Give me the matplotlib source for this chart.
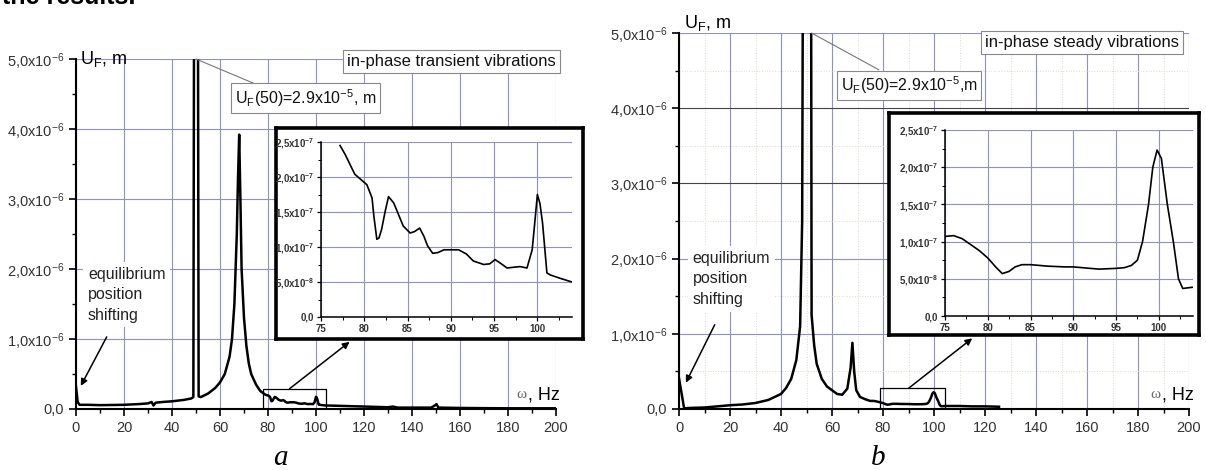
import numpy as np
import matplotlib
matplotlib.use("Agg")
import matplotlib.pyplot as plt
from matplotlib.ticker import MultipleLocator, FixedLocator, FixedFormatter

plt.rcParams['font.family'] = ['Liberation Sans', 'DejaVu Sans']
plt.rcParams['mathtext.fontset'] = 'custom'
plt.rcParams['mathtext.rm'] = 'Liberation Sans'
plt.rcParams['mathtext.it'] = 'Liberation Sans:italic'

# ---- panel a: in-phase transient vibrations ----
# amplitude in 1e-6 m outside the zoomed band
freq_a_low = [0, 0.7, 1.5, 5, 10, 20, 26, 30, 31.5, 32.3, 33.2, 36, 40, 45, 48, 48.9,
              49.2, 50.0, 50.8, 51.1, 52, 55, 58, 60, 62, 64, 65, 66, 67, 67.5, 68,
              68.5, 69, 70, 71, 72, 73, 75, 76.5]
amp_a_low = [0.32, 0.1, 0.06, 0.06, 0.055, 0.06, 0.07, 0.08, 0.1, 0.05, 0.09, 0.1, 0.11,
             0.13, 0.15, 0.17, 6.0, 29.0, 6.0, 0.18, 0.17, 0.22, 0.3, 0.38, 0.5, 0.75,
             1.0, 1.5, 2.5, 3.3, 3.92, 3.0, 2.0, 1.3, 0.9, 0.65, 0.5, 0.35, 0.27]
# zoomed band (inset), amplitude in 1e-7 m
freq_a_zoom = [77.2, 77.8, 78.9, 80.3, 80.9, 81.1, 81.45, 81.7, 82.0, 82.4, 82.8, 83.4,
               84.0, 84.5, 85.3, 85.8, 86.4, 86.9, 87.3, 87.9, 88.5, 89.2, 90.0, 90.9,
               91.8, 92.6, 93.8, 94.5, 95.1, 95.6, 96.5, 97.2, 98.0, 98.8, 99.4, 99.7,
               100.0, 100.3, 100.6, 101.1, 101.5, 102.7, 104.0]
amp_a_zoom = [2.45, 2.32, 2.04, 1.89, 1.70, 1.45, 1.11, 1.13, 1.25, 1.5, 1.72, 1.63,
              1.45, 1.30, 1.20, 1.22, 1.27, 1.15, 1.02, 0.91, 0.92, 0.96, 0.96, 0.96,
              0.90, 0.80, 0.75, 0.76, 0.82, 0.78, 0.70, 0.71, 0.72, 0.70, 0.96, 1.35,
              1.75, 1.62, 1.34, 0.63, 0.60, 0.55, 0.50]
freq_a_high = [104.5, 110, 120, 130, 132, 134, 140, 148, 149.5, 150.2, 151, 160, 170,
               180, 190, 200]
amp_a_high = [0.05, 0.045, 0.035, 0.025, 0.035, 0.02, 0.02, 0.02, 0.05, 0.07, 0.02,
              0.015, 0.012, 0.01, 0.01, 0.01]

# ---- panel b: in-phase steady vibrations ----
freq_b_low = [0, 2, 5, 10, 15, 20, 25, 30, 35, 40, 42, 44, 46, 47.5, 48.3, 48.6, 50.0,
              51.8, 52.0, 53, 54, 56, 58, 60, 62, 64, 66, 67.3, 68, 68.7, 69.5, 71, 73]
amp_b_low = [0.41, 0.01, 0.015, 0.02, 0.035, 0.05, 0.06, 0.08, 0.12, 0.2, 0.28, 0.4,
             0.65, 1.1, 2.5, 6.0, 29.0, 6.0, 1.25, 0.85, 0.6, 0.4, 0.3, 0.25, 0.2, 0.19,
             0.27, 0.55, 0.88, 0.5, 0.25, 0.16, 0.13]
freq_b_zoom = [75, 76, 77, 78, 79, 80, 81, 81.7, 82.5, 83.2, 84, 85, 87, 89, 90, 91, 93,
               95, 96, 96.8, 97.5, 98.1, 98.8, 99.3, 99.8, 100.3, 101.0, 101.7, 102.3,
               102.8, 104.2]
amp_b_zoom = [1.07, 1.08, 1.04, 0.96, 0.88, 0.78, 0.65, 0.57, 0.60, 0.66, 0.69, 0.69,
              0.67, 0.66, 0.66, 0.65, 0.63, 0.64, 0.65, 0.68, 0.75, 1.0, 1.5, 2.0, 2.23,
              2.12, 1.5, 1.0, 0.5, 0.37, 0.39]
freq_b_high = [105, 110, 115, 120, 125.5]
amp_b_high = [0.04, 0.04, 0.035, 0.035, 0.03]

main_yticks = [0, 1, 2, 3, 4, 5]
inset_yticks = [0, 0.5, 1.0, 1.5, 2.0, 2.5]

W, H = 1206, 470
fig = plt.figure(figsize=(W / 100, H / 100), dpi=100)
GRID = '#8f8fcc'


def px_axes(x0, y0, x1, y1, **kw):
    return fig.add_axes([x0 / W, 1 - y1 / H, (x1 - x0) / W, (y1 - y0) / H], **kw)


def sci_label(v, exp):
    if v == 0:
        return '0,0'
    return f'{v:.1f}'.replace('.', ',') + r'x10$^{\mathregular{' + str(exp) + '}}$'


def style_main(ax):
    for s in ['top', 'right']:
        ax.spines[s].set_visible(False)
    for s in ['left', 'bottom']:
        ax.spines[s].set_linewidth(1.5)
    ax.set_xlim(0, 200)
    ax.set_ylim(0, 5e-6)
    ax.xaxis.set_major_locator(MultipleLocator(20))
    ax.xaxis.set_minor_locator(MultipleLocator(10))
    ax.yaxis.set_major_locator(FixedLocator([v * 1e-6 for v in main_yticks]))
    ax.yaxis.set_major_formatter(FixedFormatter([sci_label(v, -6) for v in main_yticks]))
    ax.yaxis.set_minor_locator(MultipleLocator(0.5e-6))
    ax.tick_params(which='major', length=5, width=1.2, labelsize=10.5, colors='black',
                   labelcolor='#333333')
    ax.tick_params(which='minor', length=3, width=1.0)
    ax.grid(True, which='major', color=GRID, lw=0.8)
    ax.set_axisbelow(True)


def style_inset(ax):
    for s in ['top', 'right']:
        ax.spines[s].set_visible(False)
    for s in ['left', 'bottom']:
        ax.spines[s].set_linewidth(1.1)
    ax.set_xlim(75, 104)
    ax.set_ylim(0, 2.5e-7)
    ax.xaxis.set_major_locator(MultipleLocator(5))
    ax.xaxis.set_minor_locator(MultipleLocator(2.5))
    ax.yaxis.set_major_locator(FixedLocator([v * 1e-7 for v in inset_yticks]))
    labels = ['0,0', sci_label(5.0, -8)] + [sci_label(v, -7) for v in inset_yticks[2:]]
    ax.yaxis.set_major_formatter(FixedFormatter(labels))
    ax.yaxis.set_minor_locator(MultipleLocator(0.25e-7))
    ax.tick_params(which='major', length=3, width=0.9, labelsize=7, labelcolor='#333333',
                   pad=2)
    ax.tick_params(which='minor', length=2, width=0.7)
    for lab in ax.get_xticklabels() + ax.get_yticklabels():
        lab.set_fontweight('bold')
    ax.grid(True, which='major', color=GRID, lw=0.8)
    ax.set_axisbelow(True)


def omega_label(ax, x, y):
    ax.annotate(', Hz', (x, y), ha='right', va='center', fontsize=13, annotation_clip=False)
    ax.annotate('ω', (x, y), xytext=(-24, 0), textcoords='offset points', ha='right',
                va='center', fontsize=11, family='Liberation Serif', color='#666666',
                annotation_clip=False)


box = dict(boxstyle='square,pad=0.25', facecolor='white', edgecolor='#888888', lw=0.8)
white = dict(boxstyle='square,pad=0.3', facecolor='white', edgecolor='none')
arrow = dict(arrowstyle='-|>', color='black', lw=1.1, mutation_scale=10, shrinkA=0, shrinkB=0)
thin = dict(arrowstyle='-', color='#777777', lw=0.8, shrinkA=0, shrinkB=0)

panels = [
    dict(ax=(76, 59, 556, 409), frame=(276, 128, 583, 339), inset=(321, 142, 572, 317),
         low=(freq_a_low, amp_a_low), zoom=(freq_a_zoom, amp_a_zoom),
         high=(freq_a_high, amp_a_high), title='in-phase transient vibrations',
         title_xy=(156.5, 4.96e-6), peak_txt=r'U$_{\mathregular{F}}$(50)=2.9x10$^{\mathregular{-5}}$, m',
         peak_line=((50, 5e-6), (77, 4.61e-6)), peak_xy=(95.5, 4.44e-6),
         uf_xy=(1.6, 5.0e-6), eq_xy=(5.0, 2.03e-6), eq_arrow=((12.8, 1.03e-6), (2.0, 0.33e-6)),
         rect=(78, 104, 0.29e-6), rect_arrow=((89, 0.29e-6), (114, 0.96e-6)),
         omega=(201.5, 0.2e-6), letter='a', letter_xy=(280, 458)),
    dict(ax=(679, 33, 1189, 409), frame=(889, 113, 1199, 335), inset=(945, 130, 1193, 316),
         low=(freq_b_low, amp_b_low), zoom=(freq_b_zoom, amp_b_zoom),
         high=(freq_b_high, amp_b_high), title='in-phase steady vibrations',
         title_xy=(158, 4.87e-6), peak_txt=r'U$_{\mathregular{F}}$(50)=2.9x10$^{\mathregular{-5}}$,m',
         peak_line=((52, 5e-6), (78.4, 4.51e-6)), peak_xy=(90.2, 4.3e-6),
         uf_xy=(2.0, 5.13e-6), eq_xy=(5.3, 2.1e-6), eq_arrow=((14, 1.12e-6), (2.7, 0.35e-6)),
         rect=(78.8, 104.5, 0.28e-6), rect_arrow=((90.2, 0.28e-6), (115, 0.94e-6)),
         omega=(202, 0.19e-6), letter='b', letter_xy=(878, 458)),
]

for i, p in enumerate(panels):
    ax = px_axes(*p['ax'], zorder=1)
    ax.patch.set_alpha(0)
    style_main(ax)
    freq = np.concatenate([p['low'][0], p['zoom'][0], p['high'][0]])
    amp = np.concatenate([np.array(p['low'][1]) * 1e-6, np.array(p['zoom'][1]) * 1e-7,
                          np.array(p['high'][1]) * 1e-6])
    ax.plot(freq, amp, color='black', lw=1.8, solid_joinstyle='round')

    if i == 1:
        ax.grid(True, which='minor', color='#dcdcc8', lw=0.7, ls=':')
        for g, v in zip(ax.yaxis.get_gridlines(), main_yticks):
            if v in (3, 4):
                g.set_color('#444444')

    ax.text(*p['uf_xy'], r'U$_{\mathregular{F}}$, m', fontsize=13, va='center', ha='left',
            clip_on=False)
    ax.text(*p['title_xy'], p['title'], fontsize=12, ha='center', va='center', bbox=box,
            color='#111111')
    ax.annotate('', xy=p['peak_line'][1], xytext=p['peak_line'][0], arrowprops=thin)
    ax.text(*p['peak_xy'], p['peak_txt'], fontsize=11.5, ha='center', va='center', bbox=box,
            color='#111111')
    ax.text(*p['eq_xy'], 'equilibrium\nposition\nshifting', fontsize=11.5, ha='left',
            va='top', linespacing=1.45, bbox=white, color='#222222')
    ax.annotate('', xy=p['eq_arrow'][1], xytext=p['eq_arrow'][0], arrowprops=arrow)
    x0, x1, ytop = p['rect']
    ax.plot([x0, x0, x1, x1, x0], [0, ytop, ytop, 0, 0], color='black', lw=0.9)
    ax.annotate('', xy=p['rect_arrow'][1], xytext=p['rect_arrow'][0], arrowprops=arrow)
    omega_label(ax, *p['omega'])

    fr = px_axes(*p['frame'], zorder=2)
    fr.set_xticks([])
    fr.set_yticks([])
    for s in fr.spines.values():
        s.set_linewidth(2.6)
    ins = px_axes(*p['inset'], zorder=3)
    ins.patch.set_alpha(0)
    style_inset(ins)
    ins.plot(p['zoom'][0], np.array(p['zoom'][1]) * 1e-7, color='black', lw=1.2)

    fig.text(p['letter_xy'][0] / W, 1 - p['letter_xy'][1] / H, p['letter'], fontsize=21,
             family='Liberation Serif', style='italic', ha='center', va='center')

# last line of the page text above the figure, cut by the image edge
fig.text(0.002, 1 - 4 / H, 'the results.', fontsize=18, fontweight='bold', va='baseline')

fig.savefig('out.png', dpi=100)
